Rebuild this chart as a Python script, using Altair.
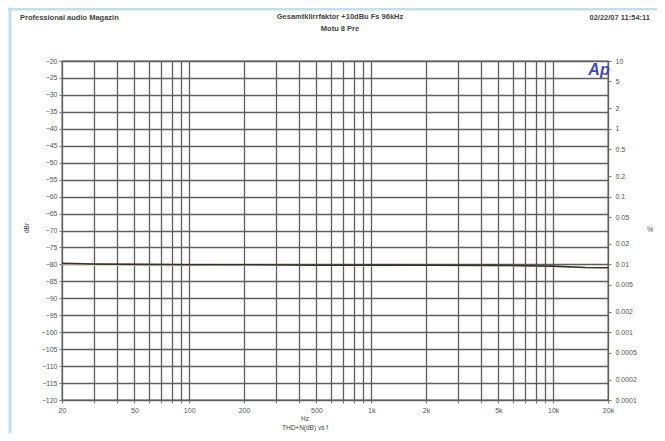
import altair as alt
import pandas as pd

# ---- data ----
freq_hz = [20, 30, 50, 100, 200, 500, 1000, 2000, 5000, 10000, 15000, 20000]
thd_ch1_db = [-79.7, -79.9, -80.0, -80.1, -80.1, -80.2, -80.2, -80.2, -80.3, -80.5, -80.9, -81.0]
thd_ch2_db = [-79.9, -80.2, -80.3, -80.3, -80.2, -80.3, -80.4, -80.3, -80.4, -80.6, -80.9, -81.0]

grid_freqs = [20, 30, 40, 50, 60, 70, 80, 90, 100, 200, 300, 400, 500, 600, 700, 800, 900,
              1000, 2000, 3000, 4000, 5000, 6000, 7000, 8000, 9000, 10000, 20000]
label_freqs = [20, 50, 100, 200, 500, 1000, 2000, 5000, 10000, 20000]
db_ticks = list(range(-20, -121, -5))
pct_ticks = [10, 5, 2, 1, 0.5, 0.2, 0.1, 0.05, 0.02, 0.01, 0.005, 0.002, 0.001,
             0.0005, 0.0002, 0.0001]

title_left = "Professional audio Magazin"
title_center_1 = "Gesamtklirrfaktor +10dBu Fs 96kHz"
title_center_2 = "Motu 8 Pre"
title_right = "02/22/07 11:54:11"
y_left_title = "dBr"
y_right_title = "%"
x_title_1 = "Hz"
x_title_2 = "THD+N(dB) vs f"

FONT = "Liberation Sans"
GRID = "#5e5e5e"

df1 = pd.DataFrame({"freq": freq_hz, "db": thd_ch1_db})
df2 = pd.DataFrame({"freq": freq_hz, "db": thd_ch2_db})

lab_list = "[" + ",".join(str(v) for v in label_freqs) + "]"
x_label_expr = (f"indexof({lab_list}, datum.value) >= 0 ? "
                "(datum.value >= 1000 ? (datum.value/1000) + 'k' : '' + datum.value) : ''")

xscale = alt.Scale(type="log", domain=[20, 20000], nice=False)
xaxis = alt.Axis(values=grid_freqs, grid=True, gridColor=GRID, gridWidth=1.3, gridOpacity=1,
                 labelExpr=x_label_expr, labelFontSize=7, labelColor="#555", labelFont=FONT,
                 tickSize=3, tickColor="#777", domain=False, title=None, labelPadding=3,
                 labelFlush=False)
yscale = alt.Scale(domain=[-120, -20], nice=False)
yaxis = alt.Axis(values=db_ticks, grid=True, gridColor=GRID, gridWidth=1.3, gridOpacity=1,
                 labelFontSize=7, labelColor="#555", labelFont=FONT, tickSize=3,
                 tickColor="#777", domain=False, title=None, labelPadding=2)

line2 = alt.Chart(df2).mark_line(strokeWidth=1.4, color="#e6dcae").encode(
    x=alt.X("freq:Q", scale=xscale, axis=xaxis),
    y=alt.Y("db:Q", scale=yscale, axis=yaxis),
)
line1 = alt.Chart(df1).mark_line(strokeWidth=1.6, color="#333333").encode(
    x=alt.X("freq:Q", scale=xscale, axis=xaxis),
    y=alt.Y("db:Q", scale=yscale, axis=None),
)

pct_df = pd.DataFrame({"freq": [1000] * len(pct_ticks), "pct": pct_ticks})
right_axis = alt.Chart(pct_df).mark_point(opacity=0).encode(
    x=alt.X("freq:Q", scale=xscale, axis=xaxis),
    y=alt.Y("pct:Q", scale=alt.Scale(type="log", domain=[0.0001, 10], nice=False),
            axis=alt.Axis(orient="right", values=pct_ticks, grid=False,
                          labelExpr="format(datum.value, '~g')", labelFontSize=7,
                          labelColor="#555", labelFont=FONT, tickSize=3, tickColor="#777",
                          domain=False, title=None, labelPadding=4)),
)


def txt(s, x, y, size=7.5, align="center", bold=True, color="#444", angle=0, italic=False):
    kw = dict(fontSize=size, align=align, baseline="middle", font=FONT, color=color,
              fontWeight="bold" if bold else "normal")
    if angle:
        kw["angle"] = angle
    if italic:
        kw["fontStyle"] = "italic"
    return alt.Chart(pd.DataFrame({"t": [s]})).mark_text(**kw).encode(
        x=alt.value(x), y=alt.value(y), text="t:N")


texts = [
    txt(title_left, -42, -43, align="left"),
    txt(title_center_1, 278, -44),
    txt(title_center_2, 278, -32),
    txt(title_right, 588, -43, align="right"),
    txt(y_left_title, -35, 167, size=6.5, angle=270, bold=False),
    txt(y_right_title, 588, 169, size=7, bold=False),
    txt(x_title_1, 243, 358, size=6.5, bold=False),
    txt(x_title_2, 243, 367, size=6.5, bold=False),
    txt("Ap", 537, 9, size=16, color="#3d4ea6", italic=True),
]

border_top = alt.Chart(pd.DataFrame({"k": [0]})).mark_rule(color="#bfe0f2", strokeWidth=3).encode(
    x=alt.value(-54), x2=alt.value(600), y=alt.value(-52))
border_left = alt.Chart(pd.DataFrame({"k": [0]})).mark_rule(color="#bfe0f2", strokeWidth=3).encode(
    x=alt.value(-52), y=alt.value(-53), y2=alt.value(400))

chart = alt.layer(line2, line1, right_axis, border_top, border_left, *texts).resolve_scale(
    y="independent"
).properties(
    width=546, height=339,
    autosize=alt.AutoSizeParams(type="none"),
    padding={"left": 54, "top": 53, "right": 49, "bottom": 33},
    background="white",
).configure_view(stroke=GRID, strokeWidth=1.3)

chart.save("out.html", embed_options={"renderer": "svg", "actions": False})
